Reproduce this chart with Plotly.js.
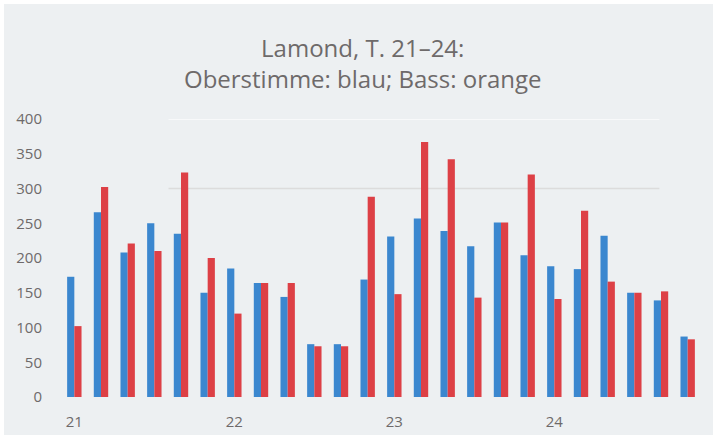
<!DOCTYPE html>
<html>
<head>
<meta charset="utf-8">
<script src="https://cdn.plot.ly/plotly-3.0.1.min.js"></script>
<style>
  html, body { margin: 0; padding: 0; background: #ffffff; }
  #wrap { position: relative; width: 713px; height: 435px; background: #ffffff; overflow: hidden; }
  #chart { position: absolute; left: 4px; top: 4px; width: 709px; height: 431px; }
</style>
</head>
<body>
<div id="wrap"><div id="chart"></div></div>
<script>
// Categories: measure.beat (T. 21–24, six positions per measure)
const categories = [
  "21.1","21.2","21.3","21.4","21.5","21.6",
  "22.1","22.2","22.3","22.4","22.5","22.6",
  "23.1","23.2","23.3","23.4","23.5","23.6",
  "24.1","24.2","24.3","24.4","24.5","24.6"
];
const measureTickVals = ["21.1","22.1","23.1","24.1"];
const measureTickText = ["21","22","23","24"];

// Oberstimme (blue)
const oberstimme = [173, 266, 208, 250, 235, 150,
                    185, 164, 144, 76, 76, 169,
                    231, 257, 239, 217, 251, 204,
                    188, 184, 232, 150, 139, 87];
// Bass (orange/red)
const bass = [102, 302, 221, 210, 323, 200,
              120, 164, 164, 73, 73, 288,
              148, 367, 342, 143, 251, 320,
              141, 268, 166, 150, 152, 83];

const yTicks = [0, 50, 100, 150, 200, 250, 300, 350, 400];
const gridLevels = [400, 300];

const textColor = "#6e6a6a";
const fontFam = "Open Sans, sans-serif";

const traces = [
  { type: "bar", name: "Oberstimme", x: categories, y: oberstimme,
    marker: { color: "#3b87cf" }, hoverinfo: "x+y" },
  { type: "bar", name: "Bass", x: categories, y: bass,
    marker: { color: "#dd4046" }, hoverinfo: "x+y" }
];

const shapes = gridLevels.map((v, i) => ({
  type: "line", xref: "paper", yref: "y",
  x0: 0.168, x1: 0.935, y0: v, y1: v,
  line: { color: i === 0 ? "#fbfcfd" : "#dcdcdc", width: 1.5 },
  layer: "below"
}));

const layout = {
  width: 709, height: 431,
  paper_bgcolor: "#edf0f2",
  plot_bgcolor: "rgba(0,0,0,0)",
  margin: { l: 57, r: 12, t: 115, b: 38, pad: 0 },
  barmode: "group",
  bargap: 0.46,
  bargroupgap: 0,
  showlegend: false,
  font: { family: fontFam, color: textColor, size: 15 },
  title: {
    text: "Lamond, T. 21–24:<br>Oberstimme: blau; Bass: orange",
    font: { family: fontFam, size: 24, color: textColor },
    x: 0.506, xanchor: "center", xref: "container",
    y: 0.878, yanchor: "top", yref: "container"
  },
  xaxis: {
    type: "category",
    categoryarray: categories,
    tickmode: "array",
    tickvals: measureTickVals,
    ticktext: measureTickText,
    showgrid: false, zeroline: false, showline: false,
    ticks: "outside", ticklen: 11, tickcolor: "rgba(0,0,0,0)",
    tickfont: { size: 15, color: textColor },
    tickangle: 0
  },
  yaxis: {
    range: [0, 400],
    tickmode: "array",
    tickvals: yTicks,
    showgrid: false, zeroline: false, showline: false,
    ticks: "outside", ticklen: 15, tickcolor: "rgba(0,0,0,0)",
    tickfont: { size: 15, color: textColor }
  },
  shapes: shapes
};

Plotly.newPlot("chart", traces, layout, { displayModeBar: false, staticPlot: true });
</script>
</body>
</html>
